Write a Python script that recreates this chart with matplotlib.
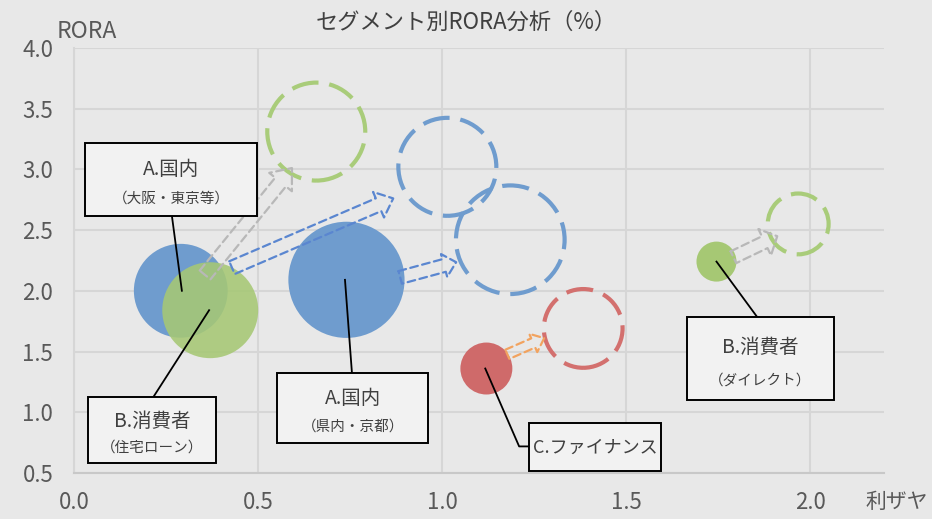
import matplotlib
matplotlib.use("Agg")
import matplotlib.pyplot as plt
from matplotlib.colors import to_rgba
from matplotlib.patches import Rectangle, FancyArrowPatch, ArrowStyle

plt.rcParams['font.family'] = ['Noto Sans CJK JP', 'DejaVu Sans']

# current position of each segment (solid bubbles)
seg_x = [0.29, 0.37, 0.74, 1.12, 1.745]
seg_y = [2.00, 1.84, 2.09, 1.36, 2.24]
seg_size = [88, 92, 135, 27, 16]
seg_color = ["#6f9cce", "#a6c874", "#6f9cce", "#cf6a6a", "#a6c874"]
seg_alpha = [1.0, 0.88, 1.0, 1.0, 1.0]

# target position (dashed bubbles)
tgt_x = [0.658, 1.014, 1.185, 1.383, 1.967]
tgt_y = [3.31, 3.02, 2.42, 1.69, 2.55]
tgt_size = [96, 96, 118, 62, 37]
tgt_color = ["#a9cc7a", "#6f9cce", "#6f9cce", "#d3706e", "#a9cc7a"]

# arrows from current to target (tail x, tail y, tip x, tip y)
arrows = [
    (0.356, 2.13, 0.592, 3.01, "#b8b8b8"),
    (0.429, 2.19, 0.867, 2.76, "#5a86d0"),
    (0.886, 2.11, 1.038, 2.235, "#5a86d0"),
    (1.177, 1.477, 1.277, 1.61, "#f2a35f"),
    (1.791, 2.276, 1.910, 2.449, "#b8b8b8"),
]
arrow_dims = [(10, 21, 13), (10, 20, 11.5), (9.4, 17, 9), (7.2, 14.4, 8.6), (9.4, 21, 10)]

# callout boxes: (x0, y0, x1, y1), title, sub
boxes = [
    ((0.030, 2.614, 0.497, 3.215), "A.国内", "（大阪・東京等）"),
    ((0.038, 0.579, 0.386, 1.123), "B.消費者", "（住宅ローン）"),
    ((0.552, 0.744, 0.962, 1.320), "A.国内", "（県内・京都）"),
    ((1.236, 0.513, 1.595, 0.909), "C.ファイナンス", None),
    ((1.666, 1.098, 2.063, 1.782), "B.消費者", "（ダイレクト）"),
]
leaders = [
    [(0.266, 2.614), (0.293, 2.00)],
    [(0.215, 1.123), (0.367, 1.84)],
    [(0.755, 1.320), (0.736, 2.09)],
    [(1.242, 0.719), (1.209, 0.719), (1.117, 1.36)],
    [(1.856, 1.782), (1.745, 2.24)],
]

BG = "#e8e8e8"
TXT = "#595959"
BOXTXT = "#404040"
fig = plt.figure(figsize=(9.32, 5.19), dpi=100, facecolor=BG)
ax = fig.add_axes([0.0794, 0.0886, 0.8691, 0.8194], facecolor=BG)

K = 51.84  # size -> scatter area
fills = [to_rgba(c, a) for c, a in zip(seg_color, seg_alpha)]
ax.scatter(seg_x, seg_y, s=[v * K for v in seg_size], c=fills,
           linewidths=0, zorder=3)

ax.scatter(tgt_x, tgt_y, s=[v * K for v in tgt_size], facecolors="none",
           edgecolors=tgt_color, linewidths=3, linestyles=(0, (6.5, 2.6)), zorder=3)

for (x0, y0, x1, y1, c), (tw, hw, hl) in zip(arrows, arrow_dims):
    st = ArrowStyle.Simple(head_length=hl, head_width=hw, tail_width=tw)
    ar = FancyArrowPatch((x0, y0), (x1, y1), arrowstyle=st, mutation_scale=1,
                         fc="none", ec=c, lw=1.6, ls=(0, (3.5, 2)),
                         shrinkA=0, shrinkB=0, zorder=4)
    ax.add_patch(ar)

for pts in leaders:
    ax.plot([p[0] for p in pts], [p[1] for p in pts], color="black", lw=1.3, zorder=5)

for (x0, y0, x1, y1), title, sub in boxes:
    ax.add_patch(Rectangle((x0, y0), x1 - x0, y1 - y0, fc="#f2f2f2", ec="black",
                           lw=1.4, zorder=6))
    cx = (x0 + x1) / 2
    if sub is None:
        ax.text(cx, (y0 + y1) / 2, title, ha="center", va="center",
                fontsize=13, color=BOXTXT, zorder=7)
    else:
        h = y1 - y0
        ax.text(cx, y1 - h * 0.36, title, ha="center", va="center",
                fontsize=14, color=BOXTXT, zorder=7)
        ax.text(cx, y1 - h * 0.76, sub, ha="center", va="center",
                fontsize=10.5, color=BOXTXT, zorder=7)

ax.set_xlim(0, 2.2)
ax.set_ylim(0.5, 4.0)
ax.set_xticks([0.0, 0.5, 1.0, 1.5, 2.0])
ax.set_yticks([0.5, 1.0, 1.5, 2.0, 2.5, 3.0, 3.5, 4.0])
ax.set_xticklabels(["%.1f" % v for v in ax.get_xticks()])
ax.set_yticklabels(["%.1f" % v for v in ax.get_yticks()])
ax.tick_params(length=0, labelsize=16, colors=TXT)
ax.tick_params(axis="y", pad=15)
ax.tick_params(axis="x", pad=13)
ax.grid(True, color="#d6d6d6", lw=1.5, zorder=0)
ax.set_axisbelow(True)
for s in ["top", "right"]:
    ax.spines[s].set_visible(False)
ax.spines["left"].set_color("#d6d6d6")
ax.spines["left"].set_linewidth(1.5)
ax.spines["bottom"].set_color("#c8c8c8")
ax.spines["bottom"].set_linewidth(1.5)

fig.text(0.5, 0.958, "セグメント別RORA分析（%）", ha="center", va="center",
         fontsize=16, color=BOXTXT)
fig.text(0.061, 0.94, "RORA", ha="left", va="center", fontsize=16.5, color=TXT)
fig.text(0.929, 0.033, "利ザヤ", ha="left", va="center", fontsize=15, color=TXT)

fig.savefig("out.png", dpi=100, facecolor=BG)
